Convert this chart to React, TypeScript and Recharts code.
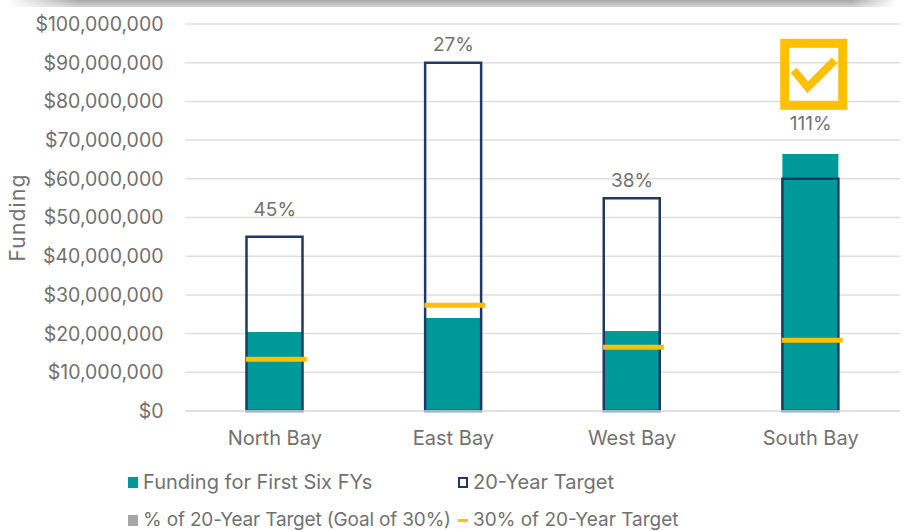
import { Bar, CartesianGrid, ComposedChart, LabelList, Legend, Line, ReferenceDot, XAxis, YAxis } from 'recharts';

const categories = ['North Bay', 'East Bay', 'West Bay', 'South Bay'];
const funding = [20400000, 24000000, 20700000, 66400000];
const target = [45000000, 90000000, 55000000, 60000000];
const thirtyPercent = [13400000, 27300000, 16500000, 18300000];
const percentLabels = ['45%', '27%', '38%', '111%'];
// height on the value axis where each percent label sits
const percentHeights = [52200000, 94800000, 59700000, 74400000];
const yTicks = [0, 10000000, 20000000, 30000000, 40000000, 50000000, 60000000, 70000000, 80000000, 90000000, 100000000];

const data = categories.map((name, i) => ({
  name,
  funding: funding[i],
  target: target[i],
  thirty: thirtyPercent[i],
  percentHeight: percentHeights[i],
  percent: percentLabels[i],
}));

const TEAL = '#009999';
const NAVY = '#1f3864';
const GOLD = '#ffc000';
const TEXT = '#717171';
const FONT = 'Inter, "Open Sans", sans-serif';

const formatDollars = (value: number) => `$${value.toLocaleString('en-US')}`;

function GoalTick(props: any) {
  const { cx, cy } = props;
  if (cy == null) return null;
  return <line x1={cx - 29} x2={cx + 32} y1={cy} y2={cy} stroke={GOLD} strokeWidth={5} />;
}

function CheckBox(props: any) {
  const { cx, cy } = props;
  return (
    <g transform={`translate(${cx + 3},${cy})`}>
      <rect x={-29} y={-31} width={58} height={62} fill="none" stroke={GOLD} strokeWidth={9} />
      <path d="M-20 -4 L-6 13 L21 -14" fill="none" stroke={GOLD} strokeWidth={8} />
    </g>
  );
}

function Swatch({ kind }: { kind: string }) {
  const box = { display: 'inline-block', width: 10, height: 11, boxSizing: 'border-box' as const, flex: 'none' };
  if (kind === 'funding') return <span style={{ ...box, background: TEAL }} />;
  if (kind === 'target') return <span style={{ ...box, border: `2px solid ${NAVY}` }} />;
  if (kind === 'percent') return <span style={{ ...box, background: '#a6a6a6' }} />;
  return <span style={{ ...box, height: 3, background: GOLD }} />;
}

const legendRows = [
  [{ kind: 'funding', label: 'Funding for First Six FYs' }, { kind: 'target', label: '20-Year Target' }],
  [{ kind: 'percent', label: '% of 20-Year Target (Goal of 30%)' }, { kind: 'goal', label: '30% of 20-Year Target' }],
];

function ChartLegend() {
  return (
    <div style={{ fontFamily: FONT, color: TEXT, lineHeight: '38px' }}>
      {legendRows.map((row, r) => (
        <div key={row[0].label} style={{ display: 'flex', fontSize: r === 0 ? 20 : 19 }}>
          {row.map((item, i) => (
            <div
              key={item.label}
              style={{
                display: 'flex',
                alignItems: 'center',
                gap: 5,
                width: i === 0 ? 330 : 260,
                whiteSpace: 'nowrap',
                letterSpacing: r === 1 && i === 0 ? -0.17 : 0,
              }}
            >
              <Swatch kind={item.kind} />
              <span>{item.label}</span>
            </div>
          ))}
        </div>
      ))}
    </div>
  );
}

export default function App() {
  return (
    <div style={{ position: 'absolute', left: 0, top: 0, width: 904, height: 531, background: '#fff', overflow: 'hidden' }}>
      <div
        style={{
          position: 'absolute',
          left: 8,
          top: 0,
          width: 888,
          height: 7,
          background: 'linear-gradient(to bottom, #a8a8a8, #d4d4d4)',
          WebkitMaskImage: 'linear-gradient(to right, transparent, #000 8%, #000 95%, transparent)',
          maskImage: 'linear-gradient(to right, transparent, #000 8%, #000 95%, transparent)',
        }}
      />
      <ComposedChart
        width={904}
        height={531}
        data={data}
        margin={{ top: 24, right: 4, bottom: 14, left: 0 }}
        barSize={56}
        barGap={-56}
        style={{ fontFamily: FONT }}
      >
        <CartesianGrid vertical={false} stroke="#dedede" strokeWidth={1.5} />
        <XAxis
          dataKey="name"
          axisLine={{ stroke: '#dedede', strokeWidth: 1.5 }}
          tickLine={false}
          tickMargin={14}
          tick={{ fill: TEXT, fontSize: 20 }}
        />
        <YAxis
          width={185.5}
          domain={[0, 100000000]}
          ticks={yTicks}
          interval={0}
          axisLine={false}
          tickLine={false}
          tickSize={0}
          tickMargin={22}
          tickFormatter={formatDollars}
          tick={{ fill: TEXT, fontSize: 19.5 }}
          label={{
            value: 'Funding',
            angle: -90,
            position: 'insideLeft',
            offset: 18,
            fill: TEXT,
            fontSize: 21,
            style: { textAnchor: 'middle', letterSpacing: 1.2 },
          }}
        />
        <Bar dataKey="funding" name="Funding for First Six FYs" fill={TEAL} isAnimationActive={false} />
        <Bar dataKey="target" name="20-Year Target" fill="none" stroke={NAVY} strokeWidth={2.5} isAnimationActive={false} />
        <Line
          dataKey="thirty"
          name="30% of 20-Year Target"
          stroke="none"
          dot={<GoalTick />}
          activeDot={false}
          isAnimationActive={false}
        />
        <Line
          dataKey="percentHeight"
          name="% of 20-Year Target (Goal of 30%)"
          stroke="none"
          dot={false}
          activeDot={false}
          isAnimationActive={false}
        >
          <LabelList dataKey="percent" position="center" fill={TEXT} fontSize={19} />
        </Line>
        <ReferenceDot x="South Bay" y={87000000} shape={<CheckBox />} />
        <Legend
          content={<ChartLegend />}
          wrapperStyle={{ left: 128, top: 463, width: 640, bottom: 'auto' }}
        />
      </ComposedChart>
    </div>
  );
}
